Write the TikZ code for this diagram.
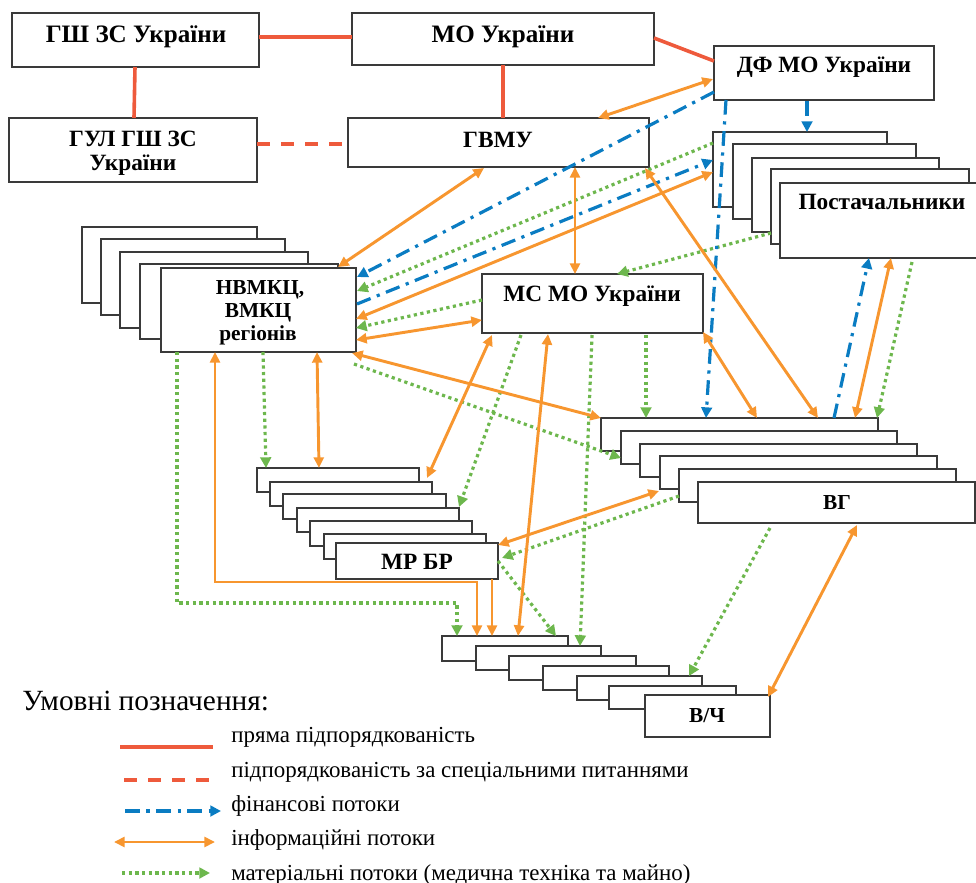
\documentclass[tikz,border=0pt]{standalone}
\usepackage{fontspec}
\setmainfont{Liberation Serif}
\usetikzlibrary{arrows.meta,fit}

\definecolor{cred}{HTML}{EE5A3C}
\definecolor{corange}{HTML}{F7962F}
\definecolor{cgreen}{HTML}{6DB74D}
\definecolor{cblue}{HTML}{0A7CC2}
\definecolor{cbox}{HTML}{3A3A3A}

\tikzset{
  boxst/.style={draw=cbox, line width=1.2pt, fill=white, inner sep=0pt},
  lbl/.style={font=\fontsize{17.5}{21}\selectfont\bfseries, anchor=base, inner sep=0pt},
  lblbig/.style={font=\fontsize{18.8}{22}\selectfont\bfseries, anchor=base, inner sep=0pt},
  lblsm/.style={font=\fontsize{16}{19}\selectfont\bfseries, anchor=base, inner sep=0pt},
  legtxt/.style={font=\fontsize{17.2}{20}\selectfont, anchor=base west, inner sep=0pt},
  leghead/.style={font=\fontsize{22}{26}\selectfont, anchor=base west, inner sep=0pt},
  subln/.style={draw=cred, line width=2.7pt},
  specln/.style={draw=cred, line width=2.7pt, dash pattern=on 10pt off 8pt},
  finln/.style={draw=cblue, line width=2.4pt, dash pattern=on 11pt off 5pt on 2.4pt off 5pt, -{Triangle[length=8pt,width=8pt]}},
  infln/.style={draw=corange, line width=2.2pt, {Triangle[length=8pt,width=7.5pt]}-{Triangle[length=8pt,width=7.5pt]}},
  infone/.style={draw=corange, line width=2.2pt, -{Triangle[length=8pt,width=7.5pt]}},
  matln/.style={draw=cgreen, line width=2.4pt, dash pattern=on 2.4pt off 2.6pt, -{Triangle[length=8pt,width=8pt]}},
}

\newcommand\mkbox[5]{%
  \path (#2,#3) coordinate (#1-nw) (#4,#5) coordinate (#1-se);
  \node[boxst, fit=(#1-nw)(#1-se)] (#1) {};%
}

\begin{document}
\begin{tikzpicture}[x=0.75pt,y=-0.75pt]
\useasboundingbox (0,0) rectangle (976,883);

% ---------- boxes ----------
\mkbox{gsh}{12}{13}{259}{67}
\mkbox{mo}{352}{13}{654}{65}
\mkbox{df}{714}{46}{934}{100}
\mkbox{gul}{9}{118}{257}{182}
\mkbox{gvmu}{348}{118}{649}{167}

\mkbox{pa}{713}{132}{887}{207}
\mkbox{pb}{733}{144}{916}{219}
\mkbox{pc}{752}{158}{939}{232}
\mkbox{pd}{771}{169}{969}{244}
\mkbox{pe}{780}{183}{980}{258}

\mkbox{na}{82}{227}{257}{303}
\mkbox{nb}{101}{239}{285}{315}
\mkbox{nc}{120}{252}{308}{328}
\mkbox{nd}{140}{264}{338}{339}
\mkbox{ne}{161}{268}{356}{352}

\mkbox{ms}{482}{274}{703}{333}

\mkbox{va}{601}{418}{878}{451}
\mkbox{vb}{621}{431}{897}{464}
\mkbox{vc}{640}{444}{917}{477}
\mkbox{vd}{660}{456}{937}{489}
\mkbox{ve}{679}{469}{956}{502}
\mkbox{vf}{698}{482}{975}{523}

\mkbox{ma}{257}{468}{419}{492}
\mkbox{mb}{270}{482}{432}{506}
\mkbox{mc}{283}{494}{446}{519}
\mkbox{md}{297}{508}{459}{532}
\mkbox{me}{310}{521}{472}{546}
\mkbox{mf}{324}{534}{486}{559}
\mkbox{mg}{336}{543}{498}{579}

\mkbox{ca}{442}{636}{568}{661}
\mkbox{cb}{476}{646}{601}{670}
\mkbox{cc}{509}{656}{636}{680}
\mkbox{cd}{543}{666}{669}{690}
\mkbox{ce}{577}{676}{702}{700}
\mkbox{cf}{609}{686}{736}{709}
\mkbox{cg}{645}{695}{770}{737}

% ---------- labels ----------
\node[lblbig] (gsh-t) at (136,42) {ГШ ЗС України};
\node[lblbig] (mo-t) at (503,42) {МО України};
\node[lbl] (df-t) at (824,72) {ДФ МО України};
\node[lbl] (gul-t1) at (133,146) {ГУЛ ГШ ЗС};
\node[lbl] (gul-t2) at (133,170) {України};
\node[lbl] (gvmu-t) at (498,147) {ГВМУ};
\node[lbl] (pe-t) at (882,209) {Постачальники};
\node[lblsm] (ne-t1) at (260,294) {НВМКЦ,};
\node[lblsm] (ne-t2) at (258,317) {ВМКЦ};
\node[lblsm] (ne-t3) at (258,340) {регіонів};
\node[lbl] (ms-t) at (592,301) {МС МО України};
\node[lblsm] (vf-t) at (837,509) {ВГ};
\node[lbl] (mg-t) at (417,569) {МР БР};
\node[lblsm] (cg-t) at (707,722) {В/Ч};

% ---------- connector end points ----------
% red
\coordinate (r1a) at (259,37);  \coordinate (r1b) at (352,37);
\coordinate (r2a) at (135,67);  \coordinate (r2b) at (134,118);
\coordinate (r3a) at (503,65);  \coordinate (r3b) at (503,118);
\coordinate (r4a) at (654,38);  \coordinate (r4b) at (714,61);
\coordinate (r5a) at (257,144); \coordinate (r5b) at (348,144);
% orange
\coordinate (o1a) at (713,79);  \coordinate (o1b) at (598,118);
\coordinate (o2a) at (484,168); \coordinate (o2b) at (338,267);
\coordinate (o3a) at (575,167); \coordinate (o3b) at (575,274);
\coordinate (o4a) at (356,319); \coordinate (o4b) at (713,172);
\coordinate (o5a) at (356,340); \coordinate (o5b) at (482,320);
\coordinate (o6a) at (645,168); \coordinate (o6b) at (818,418);
\coordinate (o7a) at (703,332); \coordinate (o7b) at (757,418);
\coordinate (o8a) at (891,258); \coordinate (o8b) at (855,418);
\coordinate (o9a) at (352,353); \coordinate (o9b) at (601,418);
\coordinate (o10a) at (317,352); \coordinate (o10b) at (319,468);
\coordinate (o11a) at (492,335); \coordinate (o11b) at (427,478);
\coordinate (o12a) at (548,334); \coordinate (o12b) at (518,636);
\coordinate (o13a) at (659,491); \coordinate (o13b) at (498,545);
\coordinate (o14a) at (857,525); \coordinate (o14b) at (768,697);
\coordinate (o15a) at (215,352); \coordinate (o15k1) at (215,582);
\coordinate (o15k2) at (477,582); \coordinate (o15b) at (477,636);
\coordinate (o16a) at (492,579); \coordinate (o16b) at (492,636);
% green
\coordinate (g1a) at (713,143); \coordinate (g1b) at (357,291);
\coordinate (g2a) at (482,300); \coordinate (g2b) at (356,328);
\coordinate (g3a) at (771,233); \coordinate (g3b) at (617,274);
\coordinate (g4a) at (354,364); \coordinate (g4b) at (621,458);
\coordinate (g5a) at (263,352); \coordinate (g5b) at (266,468);
\coordinate (g6a) at (177,352); \coordinate (g6k1) at (177,603);
\coordinate (g6k2) at (457,603); \coordinate (g6b) at (457,636);
\coordinate (g7a) at (521,335); \coordinate (g7b) at (459,507);
\coordinate (g8a) at (592,335); \coordinate (g8b) at (580,646);
\coordinate (g9a) at (646,335); \coordinate (g9b) at (646,418);
\coordinate (g10a) at (912,262); \coordinate (g10b) at (877,418);
\coordinate (g11a) at (679,496); \coordinate (g11b) at (502,558);
\coordinate (g12a) at (498,561); \coordinate (g12b) at (556,636);
\coordinate (g13a) at (770,528); \coordinate (g13b) at (689,676);
% blue
\coordinate (b1a) at (714,92);  \coordinate (b1b) at (357,277);
\coordinate (b2a) at (357,304); \coordinate (b2b) at (713,160);
\coordinate (b3a) at (726,100); \coordinate (b3b) at (706,418);
\coordinate (b4a) at (807,101); \coordinate (b4b) at (807,132);
\coordinate (b5a) at (834,418); \coordinate (b5b) at (869,258);

% ---------- connectors ----------
\draw[subln] (r1a) -- (r1b);
\draw[subln] (r2a) -- (r2b);
\draw[subln] (r3a) -- (r3b);
\draw[subln] (r4a) -- (r4b);
\draw[specln] (r5a) -- (r5b);

\draw[matln] (g1a) -- (g1b);
\draw[matln] (g2a) -- (g2b);
\draw[matln] (g3a) -- (g3b);
\draw[matln] (g4a) -- (g4b);
\draw[matln] (g5a) -- (g5b);
\draw[matln] (g6a) -- (g6k1) -- (g6k2) -- (g6b);
\draw[matln] (g7a) -- (g7b);
\draw[matln] (g8a) -- (g8b);
\draw[matln] (g9a) -- (g9b);
\draw[matln] (g10a) -- (g10b);
\draw[matln] (g11a) -- (g11b);
\draw[matln] (g12a) -- (g12b);
\draw[matln] (g13a) -- (g13b);

\draw[finln] (b1a) -- (b1b);
\draw[finln] (b2a) -- (b2b);
\draw[finln] (b3a) -- (b3b);
\draw[finln] (b4a) -- (b4b);
\draw[finln] (b5a) -- (b5b);

\draw[infln] (o1a) -- (o1b);
\draw[infln] (o2a) -- (o2b);
\draw[infln] (o3a) -- (o3b);
\draw[infln] (o4a) -- (o4b);
\draw[infln] (o5a) -- (o5b);
\draw[infln] (o6a) -- (o6b);
\draw[infln] (o7a) -- (o7b);
\draw[infln] (o8a) -- (o8b);
\draw[infln] (o9a) -- (o9b);
\draw[infln] (o10a) -- (o10b);
\draw[infln] (o11a) -- (o11b);
\draw[infln] (o12a) -- (o12b);
\draw[infln] (o13a) -- (o13b);
\draw[infln] (o14a) -- (o14b);
\draw[infln] (o15a) -- (o15k1) -- (o15k2) -- (o15b);
\draw[infone] (o16a) -- (o16b);

% ---------- legend ----------
\node[leghead] (leg-h) at (22,710) {Умовні позначення:};
\coordinate (l1a) at (120,747); \coordinate (l1b) at (213,747);
\coordinate (l2a) at (124,780); \coordinate (l2b) at (215,780);
\coordinate (l3a) at (125,811); \coordinate (l3b) at (221,811);
\coordinate (l4a) at (114,842); \coordinate (l4b) at (215,842);
\coordinate (l5a) at (122,873); \coordinate (l5b) at (210,873);
\draw[subln] (l1a) -- (l1b);
\draw[specln] (l2a) -- (l2b);
\draw[finln] (l3a) -- (l3b);
\draw[infln] (l4a) -- (l4b);
\draw[matln] (l5a) -- (l5b);
\node[legtxt] (leg-1) at (231,742) {пряма підпорядкованість};
\node[legtxt] (leg-2) at (231,777) {підпорядкованість за спеціальними питаннями};
\node[legtxt] (leg-3) at (231,811) {фінансові потоки};
\node[legtxt] (leg-4) at (231,845) {інформаційні потоки};
\node[legtxt] (leg-5) at (231,880) {матеріальні потоки (медична техніка та майно)};
\end{tikzpicture}
\end{document}
